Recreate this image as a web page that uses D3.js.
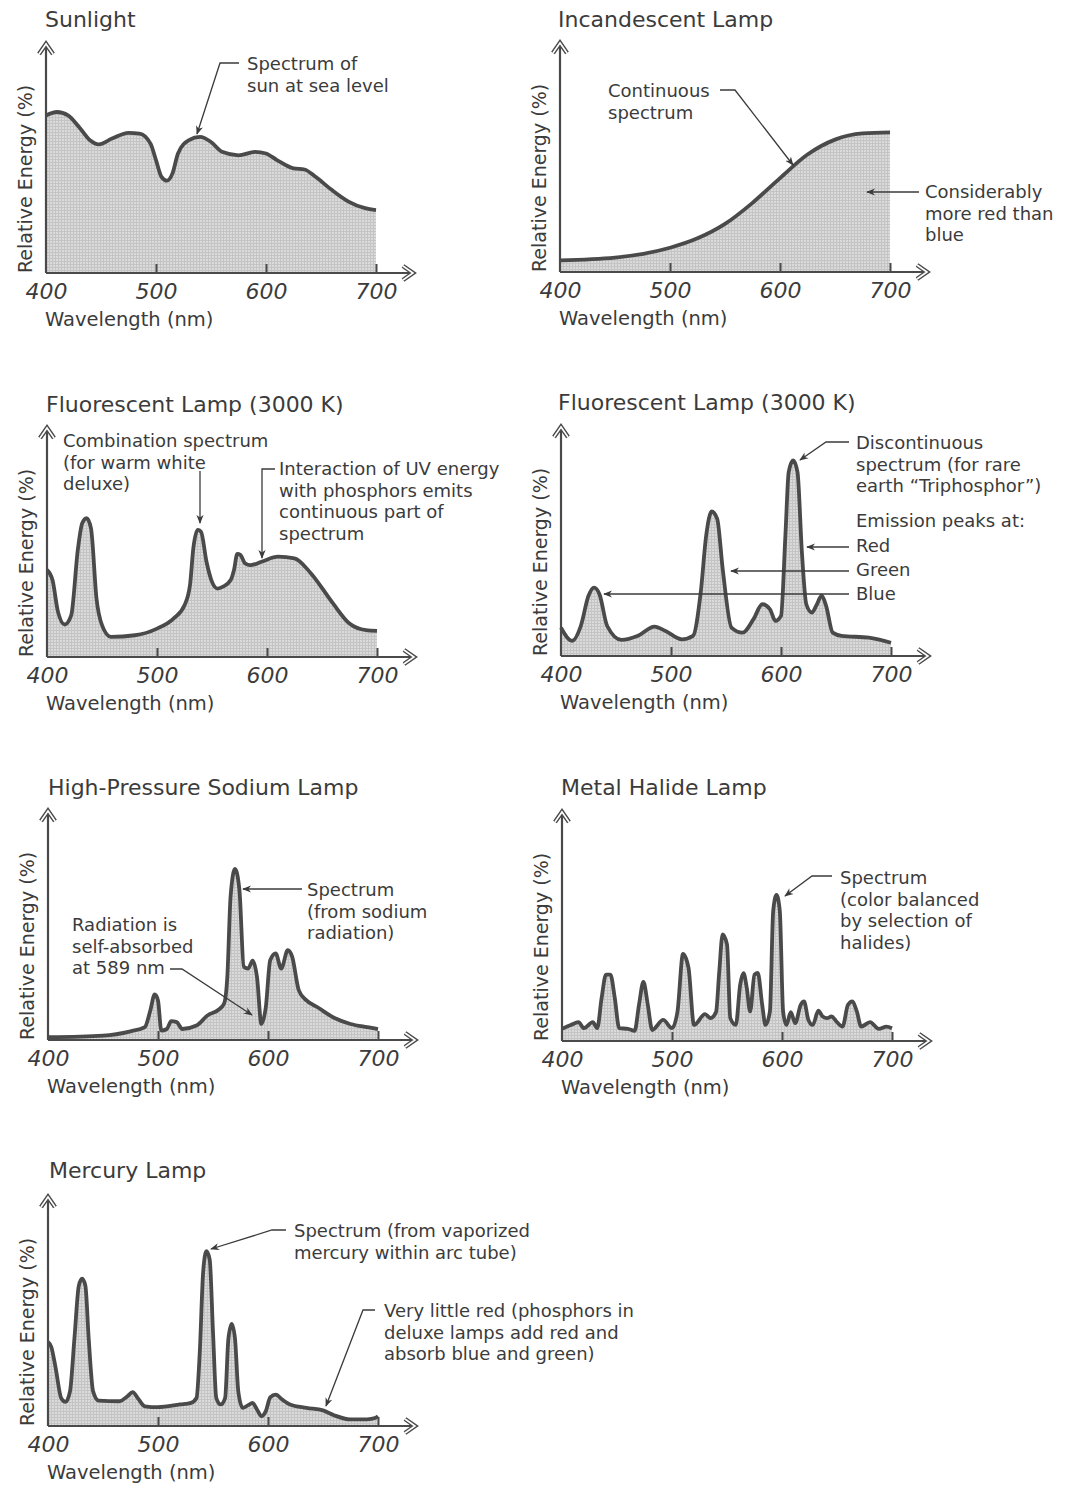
<!DOCTYPE html>
<html>
<head>
<meta charset="utf-8">
<script src="https://cdn.jsdelivr.net/npm/d3@7"></script>
<style>
  body { margin: 0; background: #fff; }
  text { font-family: "DejaVu Sans", sans-serif; fill: #3b3b3b; }
</style>
</head>
<body>
<div class="chart"></div>
<script>
/*--------------------------------------------------------------------------
  Data: [wavelength nm, relative energy %]
--------------------------------------------------------------------------*/
var tickValues = [400, 500, 600, 700];

var sunlight = [[400,68.8],[410,70.3],[420,68.8],[430,63.8],[440,58],[448,56.2],[460,58.7],[475,61.2],
  [485,60.9],[495,56.5],[500,49.3],[505,42],[510,40.3],[515,43.5],[520,52.2],[530,58],[540,59.4],
  [550,57.2],[560,52.9],[575,51.4],[590,52.9],[600,52.2],[610,49.3],[625,45.7],[635,45.2],[645,42],
  [660,36.2],[675,31.2],[690,28.3],[700,27.5]];

var incandescent = [[400,5.1],[450,6.3],[500,10.6],[525,14.7],[550,21],[575,30.2],[600,41],
  [625,51.3],[650,57.8],[675,60.5],[700,61]];

var warmWhite = [[400,38],[405,33.6],[410,19.7],[416,14.2],[422,18.2],[428,46.7],[432,58.4],[436,60.6],
  [440,56.2],[445,25.5],[450,13.9],[458,8.8],[480,9.5],[500,12.4],[515,16.8],[525,22.6],[530,31.4],
  [533,47.4],[537,55.5],[540,54.7],[545,41.6],[550,32.8],[555,29.9],[560,30.7],[567,33.6],[570,38],
  [573,45],[576,44.5],[580,40.9],[585,40.1],[595,41.6],[610,43.8],[625,43.1],[640,36.5],[660,23.4],
  [675,14.6],[690,11.7],[700,11.4]];

var triphosphor = [[400,12.4],[410,6.6],[418,13.1],[425,26.3],[430,29.9],[435,27],[442,13.1],[455,7],
  [470,8.8],[485,12.8],[495,10.9],[510,7.3],[520,8.8],[527,27.7],[532,52.6],[537,63.1],[542,59.9],
  [547,38],[555,12.4],[565,10.2],[575,16.1],[583,22.6],[590,20.4],[595,15.3],[600,17.5],[604,52.6],
  [607,80.3],[611,85.4],[615,80.3],[619,45.3],[623,22.6],[628,19],[632,21.9],[637,26.3],[641,21.9],
  [647,10.2],[655,8.8],[680,8],[700,5.8]];

var sodium = [[400,1.2],[450,1.9],[475,3.8],[488,5.6],[493,12.9],[497,19.9],[500,17.3],[503,4.1],
  [508,4.8],[512,8.2],[517,7.8],[522,4.8],[535,6.3],[545,10.7],[555,13.2],[560,15.8],[563,27.5],
  [566,62.7],[570,74.7],[574,65.6],[578,32],[582,31.2],[586,34.6],[590,27.5],[594,7],[598,14.3],
  [602,34.8],[607,37.8],[612,31.2],[618,39.2],[622,36.3],[628,21.7],[635,17.3],[645,14.3],[660,9.7],
  [675,7],[690,5.6],[700,4.8]];

var metalHalide = [[400,5.3],[408,7],[415,8.2],[420,5.6],[428,8.2],[432,5.6],[436,18.7],[440,29],
  [444,29],[448,18.7],[452,5.6],[460,5.3],[466,4.4],[470,15.8],[474,25.8],[478,15.8],[482,4.8],
  [492,9.2],[500,5.6],[505,12.9],[510,38],[515,31.9],[520,7],[530,11.7],[535,10],[540,12.6],[543,30.5],
  [546,46.6],[550,42.2],[553,10],[558,7],[562,24.6],[565,29.6],[568,23.1],[571,12.9],[575,29],
  [578,29.7],[582,15.8],[585,7],[589,12.9],[592,56.8],[595,63.8],[598,56.8],[601,12.9],[604,7],
  [608,12.6],[612,7.8],[617,15.8],[620,17.3],[624,9.2],[628,7],[633,13.2],[637,10.7],[641,10],
  [645,10.7],[650,8.2],[655,6.3],[660,15.8],[664,17.3],[668,12.9],[672,6.3],[680,8.2],[688,5.3],
  [695,6.3],[700,5.6]];

var mercury = [[400,36.7],[403,34.5],[407,25.2],[412,12.2],[416,10.5],[420,15.1],[424,38.1],[428,61.2],
  [431,64.3],[434,61.2],[437,38.1],[441,15.1],[446,11.1],[465,10.8],[472,12.9],[477,14.8],[482,11.9],
  [488,8.6],[500,8.2],[520,9.4],[530,10.1],[535,12.2],[538,32.4],[541,66.9],[544,76.3],[547,72.7],
  [550,41],[553,12.2],[557,9.4],[561,12.2],[564,38.1],[567,44.6],[570,38.1],[573,15.1],[577,7.9],
  [582,9.1],[586,10.1],[590,7.2],[594,4.3],[598,6.5],[602,12.5],[607,13.7],[613,11.5],[620,9.4],
  [635,7.9],[650,6.8],[660,4.7],[675,2.9],[690,2.9],[698,3.6],[700,4.3]];

/*--------------------------------------------------------------------------
  Layout of the seven panels and their notes
--------------------------------------------------------------------------*/
var panels = [
  { title: "Sunlight", data: sunlight, ox: 46, oy: 273, tx: 45, ty: 27,
    notes: [
      { x: 247, y: 70, lines: ["Spectrum of", "sun at sea level"], leader: [[239,63],[220,63],[197,134]] }
    ] },
  { title: "Incandescent Lamp", data: incandescent, ox: 560, oy: 272, tx: 558, ty: 27,
    notes: [
      { x: 608, y: 97, lines: ["Continuous", "spectrum"], leader: [[720,90],[735,90],[793,165]] },
      { x: 925, y: 198, lines: ["Considerably", "more red than", "blue"], leader: [[919,192],[867,192]] }
    ] },
  { title: "Fluorescent Lamp (3000 K)", data: warmWhite, ox: 47, oy: 657, tx: 46, ty: 412,
    notes: [
      { x: 63, y: 447, lines: ["Combination spectrum", "(for warm white", "deluxe)"], leader: [[200,471],[200,523]] },
      { x: 279, y: 475, lines: ["Interaction of UV energy", "with phosphors emits", "continuous part of", "spectrum"],
        leader: [[275,469],[262,469],[262,558]] }
    ] },
  { title: "Fluorescent Lamp (3000 K)", data: triphosphor, ox: 561, oy: 656, tx: 558, ty: 410,
    notes: [
      { x: 856, y: 449, lines: ["Discontinuous", "spectrum (for rare", "earth \u201CTriphosphor\u201D)"],
        leader: [[849,442],[826,442],[800,460]] },
      { x: 856, y: 527, lines: ["Emission peaks at:"] },
      { x: 856, y: 552, lines: ["Red"], leader: [[849,547],[807,547]] },
      { x: 856, y: 576, lines: ["Green"], leader: [[849,571],[731,571]] },
      { x: 856, y: 600, lines: ["Blue"], leader: [[849,594],[604,594]] }
    ] },
  { title: "High-Pressure Sodium Lamp", data: sodium, ox: 48, oy: 1040, tx: 48, ty: 795,
    notes: [
      { x: 307, y: 896, lines: ["Spectrum", "(from sodium", "radiation)"], leader: [[302,889],[243,889]] },
      { x: 72, y: 931, lines: ["Radiation is", "self-absorbed", "at 589 nm"], leader: [[170,969],[182,969],[252,1015]] }
    ] },
  { title: "Metal Halide Lamp", data: metalHalide, ox: 562, oy: 1041, tx: 561, ty: 795,
    notes: [
      { x: 840, y: 884, lines: ["Spectrum", "(color balanced", "by selection of", "halides)"],
        leader: [[832,876],[812,876],[785,896]] }
    ] },
  { title: "Mercury Lamp", data: mercury, ox: 48, oy: 1426, tx: 49, ty: 1178,
    notes: [
      { x: 294, y: 1237, lines: ["Spectrum (from vaporized", "mercury within arc tube)"],
        leader: [[286,1230],[272,1230],[211,1249]] },
      { x: 384, y: 1317, lines: ["Very little red (phosphors in", "deluxe lamps add red and", "absorb blue and green)"],
        leader: [[375,1310],[363,1310],[326,1406]] }
    ] }
];

var ink = "#4a4a4a";
var plotW = 330, plotH = 229, axisLen = 367;

var svg = d3.select(".chart")
  .append("svg")
  .attr("width", 1070)
  .attr("height", 1488);

// fine screen-like grey fill and small arrow heads
var defs = svg.append("defs");
var pat = defs.append("pattern")
  .attr("id", "screen")
  .attr("width", 3).attr("height", 3)
  .attr("patternUnits", "userSpaceOnUse");
pat.append("rect").attr("width", 3).attr("height", 3).attr("fill", "#dadada");
pat.append("path").attr("d", "M0,0.5H3M0.5,0V3").attr("stroke", "#c4c4c4").attr("stroke-width", 1);

defs.append("marker")
  .attr("id", "tip")
  .attr("viewBox", "0 0 10 10")
  .attr("refX", 9).attr("refY", 5)
  .attr("markerWidth", 9).attr("markerHeight", 9)
  .attr("markerUnits", "userSpaceOnUse")
  .attr("orient", "auto")
  .append("path")
  .attr("d", "M0,1L10,5L0,9L3,5Z")
  .attr("fill", "#3b3b3b");

var x = d3.scaleLinear().domain([400, 700]).range([0, plotW]);
var y = d3.scaleLinear().domain([0, 100]).range([0, -plotH]);

var area = d3.area()
  .x(d => x(d[0]))
  .y0(y(0))
  .y1(d => y(d[1]))
  .curve(d3.curveMonotoneX);

var line = d3.line()
  .x(d => x(d[0]))
  .y(d => y(d[1]))
  .curve(d3.curveMonotoneX);

function chevron(g, px, py, angle) {
  var d = "M-10,-7L0,0L-10,7";
  var t = `translate(${px},${py}) rotate(${angle})`;
  g.append("path").attr("d", d).attr("transform", t)
    .attr("fill", "none").attr("stroke", ink).attr("stroke-width", 4.5);
  g.append("path").attr("d", d).attr("transform", t)
    .attr("fill", "none").attr("stroke", "#fff").attr("stroke-width", 1.6);
}

panels.forEach(function (p) {
  // title
  svg.append("text")
    .attr("x", p.tx).attr("y", p.ty)
    .attr("font-size", 22)
    .text(p.title);

  var g = svg.append("g").attr("transform", `translate(${p.ox}, ${p.oy})`);

  // spectrum
  g.append("path").datum(p.data).attr("d", area).attr("fill", "url(#screen)");
  g.append("path").datum(p.data).attr("d", line)
    .attr("fill", "none").attr("stroke", ink).attr("stroke-width", 3.8)
    .attr("stroke-linejoin", "round");

  // axes with open arrow heads
  g.append("line").attr("x1", 0).attr("x2", axisLen - 3).attr("y1", 0).attr("y2", 0)
    .attr("stroke", ink).attr("stroke-width", 2.2);
  g.append("line").attr("x1", 0).attr("x2", 0).attr("y1", 0).attr("y2", -plotH + 3)
    .attr("stroke", ink).attr("stroke-width", 2.2);
  chevron(g, axisLen, 0, 0);
  chevron(g, 0, -plotH, -90);

  var gx = g.append("g").call(
    d3.axisBottom(x).tickValues(tickValues).tickSize(-9).tickFormat(d3.format("d"))
  );
  gx.select(".domain").remove();
  gx.selectAll(".tick line").attr("stroke", ink).attr("stroke-width", 2)
    .filter(d => d === 400).remove();
  gx.selectAll(".tick text")
    .attr("y", 26).attr("dy", null)
    .attr("font-size", 22)
    .attr("font-style", "italic");

  // axis labels
  g.append("text")
    .attr("x", -1).attr("y", 53)
    .attr("font-size", 19.5)
    .text("Wavelength (nm)");

  g.append("text")
    .attr("transform", "translate(-14, 0) rotate(-90)")
    .attr("font-size", 19)
    .text("Relative Energy (%)");

  // notes
  p.notes.forEach(function (n) {
    var t = svg.append("text").attr("font-size", 18);
    n.lines.forEach(function (s, i) {
      t.append("tspan").attr("x", n.x).attr("y", n.y + i * 21.7).text(s);
    });
    if (n.leader) {
      svg.append("path")
        .attr("d", d3.line()(n.leader))
        .attr("fill", "none")
        .attr("stroke", "#3b3b3b")
        .attr("stroke-width", 1.3)
        .attr("marker-end", "url(#tip)");
    }
  });
});
</script>
</body>
</html>
